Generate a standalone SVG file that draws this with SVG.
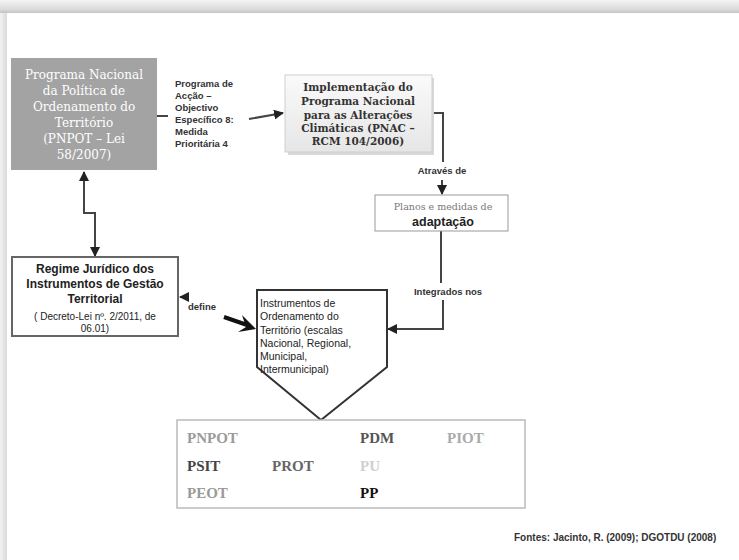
<svg xmlns="http://www.w3.org/2000/svg" width="739" height="560" viewBox="0 0 739 560">
<defs>
<linearGradient id="topShade" x1="0" y1="0" x2="0" y2="1">
<stop offset="0" stop-color="#f4f4f4"/>
<stop offset="0.7" stop-color="#dcdcdc"/>
<stop offset="1" stop-color="#c4c4c4"/>
</linearGradient>
<linearGradient id="leftShade" x1="0" y1="0" x2="1" y2="0">
<stop offset="0" stop-color="#f2f2f2"/>
<stop offset="1" stop-color="#dadada"/>
</linearGradient>
<linearGradient id="pnacFill" x1="0" y1="0" x2="0" y2="1">
<stop offset="0" stop-color="#fafafa"/>
<stop offset="1" stop-color="#e6e6e6"/>
</linearGradient>
<marker id="ah" viewBox="0 0 10 10" refX="9" refY="5" markerWidth="5" markerHeight="5" orient="auto-start-reverse">
<path d="M0,0 L10,5 L0,10 z" fill="#222"/>
</marker>
<style>
.serif{font-family:"DejaVu Serif","Liberation Serif",serif}
.sans{font-family:"Liberation Sans",Arial,sans-serif}
.conn{fill:none;stroke:#444;stroke-width:2}
.lbl{font-family:"Liberation Sans",Arial,sans-serif;font-size:9.5px;font-weight:bold;fill:#333}
.code{font-family:"Liberation Serif","DejaVu Serif",serif;font-size:15px;font-weight:bold}
</style>
</defs>
<rect width="739" height="560" fill="#ffffff"/>
<rect x="0" y="0" width="739" height="13" fill="url(#topShade)"/>
<rect x="0" y="13" width="7" height="547" fill="url(#leftShade)"/>

<g id="connectors">
<line class="conn" x1="157" y1="116" x2="168" y2="116"/>
<line class="conn" x1="249" y1="119" x2="283" y2="113" marker-end="url(#ah)"/>
<polyline class="conn" points="432,113 443,113 443,162"/>
<line class="conn" x1="442" y1="180" x2="442" y2="194" marker-end="url(#ah)"/>
<line class="conn" x1="441" y1="231" x2="441" y2="283"/>
<polyline class="conn" points="443,300 443,329 388,329" marker-end="url(#ah)"/>
<polyline class="conn" points="84,172 84,213 95,213 95,256" marker-start="url(#ah)" marker-end="url(#ah)"/>
<line class="conn" x1="183" y1="297" x2="180" y2="297" marker-end="url(#ah)"/>
<line x1="224" y1="317" x2="250" y2="326" stroke="#111" stroke-width="4"/>
<path d="M256,329 L242,315 L246,327 L238,332 z" fill="#111"/>
</g>

<g id="pnpot">
<rect x="11" y="58" width="146" height="112" fill="#a3a3a3"/>
<g class="serif" font-size="12" fill="#ffffff" text-anchor="middle">
<text x="84" y="79">Programa Nacional</text>
<text x="84" y="95">da Política de</text>
<text x="84" y="111">Ordenamento do</text>
<text x="84" y="127">Território</text>
<text x="84" y="143">(PNPOT – Lei</text>
<text x="84" y="159">58/2007)</text>
</g>
</g>

<g id="label-programa">
<text class="lbl" x="175" y="87">Programa de</text>
<text class="lbl" x="175" y="99">Acção –</text>
<text class="lbl" x="175" y="111">Objectivo</text>
<text class="lbl" x="175" y="123">Específico 8:</text>
<text class="lbl" x="175" y="135">Medida</text>
<text class="lbl" x="175" y="147">Prioritária 4</text>
</g>

<g id="pnac">
<rect x="288" y="78" width="146" height="77" fill="#d8d8d8"/>
<rect x="285" y="75" width="147" height="77" fill="url(#pnacFill)" stroke="#cfcfcf" stroke-width="1"/>
<g class="serif" font-size="10.5" font-weight="bold" fill="#333" text-anchor="middle">
<text x="358" y="91">Implementação do</text>
<text x="358" y="105">Programa Nacional</text>
<text x="358" y="119">para as Alterações</text>
<text x="358" y="132">Climáticas (PNAC –</text>
<text x="358" y="145">RCM 104/2006)</text>
</g>
</g>

<g id="label-atraves">
<text class="lbl" x="442" y="174" text-anchor="middle">Através de</text>
</g>

<g id="planos">
<rect x="375" y="195" width="133" height="36" fill="#ffffff" stroke="#999" stroke-width="1"/>
<text class="serif" x="443" y="210" font-size="9.5" fill="#777" text-anchor="middle">Planos e medidas de</text>
<text class="sans" x="443" y="226" font-size="12.5" font-weight="bold" fill="#222" text-anchor="middle">adaptação</text>
</g>

<g id="label-integrados">
<text class="lbl" x="448" y="295" text-anchor="middle">Integrados nos</text>
</g>

<g id="instrumentos">
<polygon points="257,290 387,290 387,367 321,420 257,367" fill="#ffffff" stroke="#333" stroke-width="2"/>
<g class="sans" font-size="10.5" fill="#222">
<text x="260" y="307">Instrumentos de</text>
<text x="260" y="320">Ordenamento do</text>
<text x="260" y="334">Território (escalas</text>
<text x="260" y="347">Nacional, Regional,</text>
<text x="260" y="360">Municipal,</text>
<text x="260" y="373">Intermunicipal)</text>
</g>
</g>

<g id="regime">
<rect x="12" y="257" width="166" height="79" fill="#ffffff" stroke="#666" stroke-width="2"/>
<g class="sans" font-size="12" font-weight="bold" fill="#222" text-anchor="middle">
<text x="95" y="273">Regime Jurídico dos</text>
<text x="95" y="288">Instrumentos de Gestão</text>
<text x="95" y="303">Territorial</text>
</g>
<g class="sans" font-size="10" fill="#222" text-anchor="middle">
<text x="95" y="320">( Decreto-Lei nº. 2/2011, de</text>
<text x="95" y="332">06.01)</text>
</g>
</g>

<g id="label-define">
<text class="lbl" x="188" y="310">define</text>
</g>

<g id="lista">
<rect x="177" y="420" width="348" height="88" fill="#ffffff" stroke="#bbb" stroke-width="1.5"/>
<text class="code" x="187" y="443" fill="#9a9a9a">PNPOT</text>
<text class="code" x="360" y="443" fill="#555">PDM</text>
<text class="code" x="447" y="443" fill="#aaa">PIOT</text>
<text class="code" x="187" y="471" fill="#444">PSIT</text>
<text class="code" x="272" y="471" fill="#666">PROT</text>
<text class="code" x="360" y="471" fill="#cfcfcf">PU</text>
<text class="code" x="187" y="498" fill="#999">PEOT</text>
<text class="code" x="360" y="498" fill="#111">PP</text>
</g>

<g id="fontes">
<text class="sans" x="514" y="541" font-size="10" font-weight="bold" fill="#333">Fontes: Jacinto, R. (2009); DGOTDU (2008)</text>
</g>
</svg>
